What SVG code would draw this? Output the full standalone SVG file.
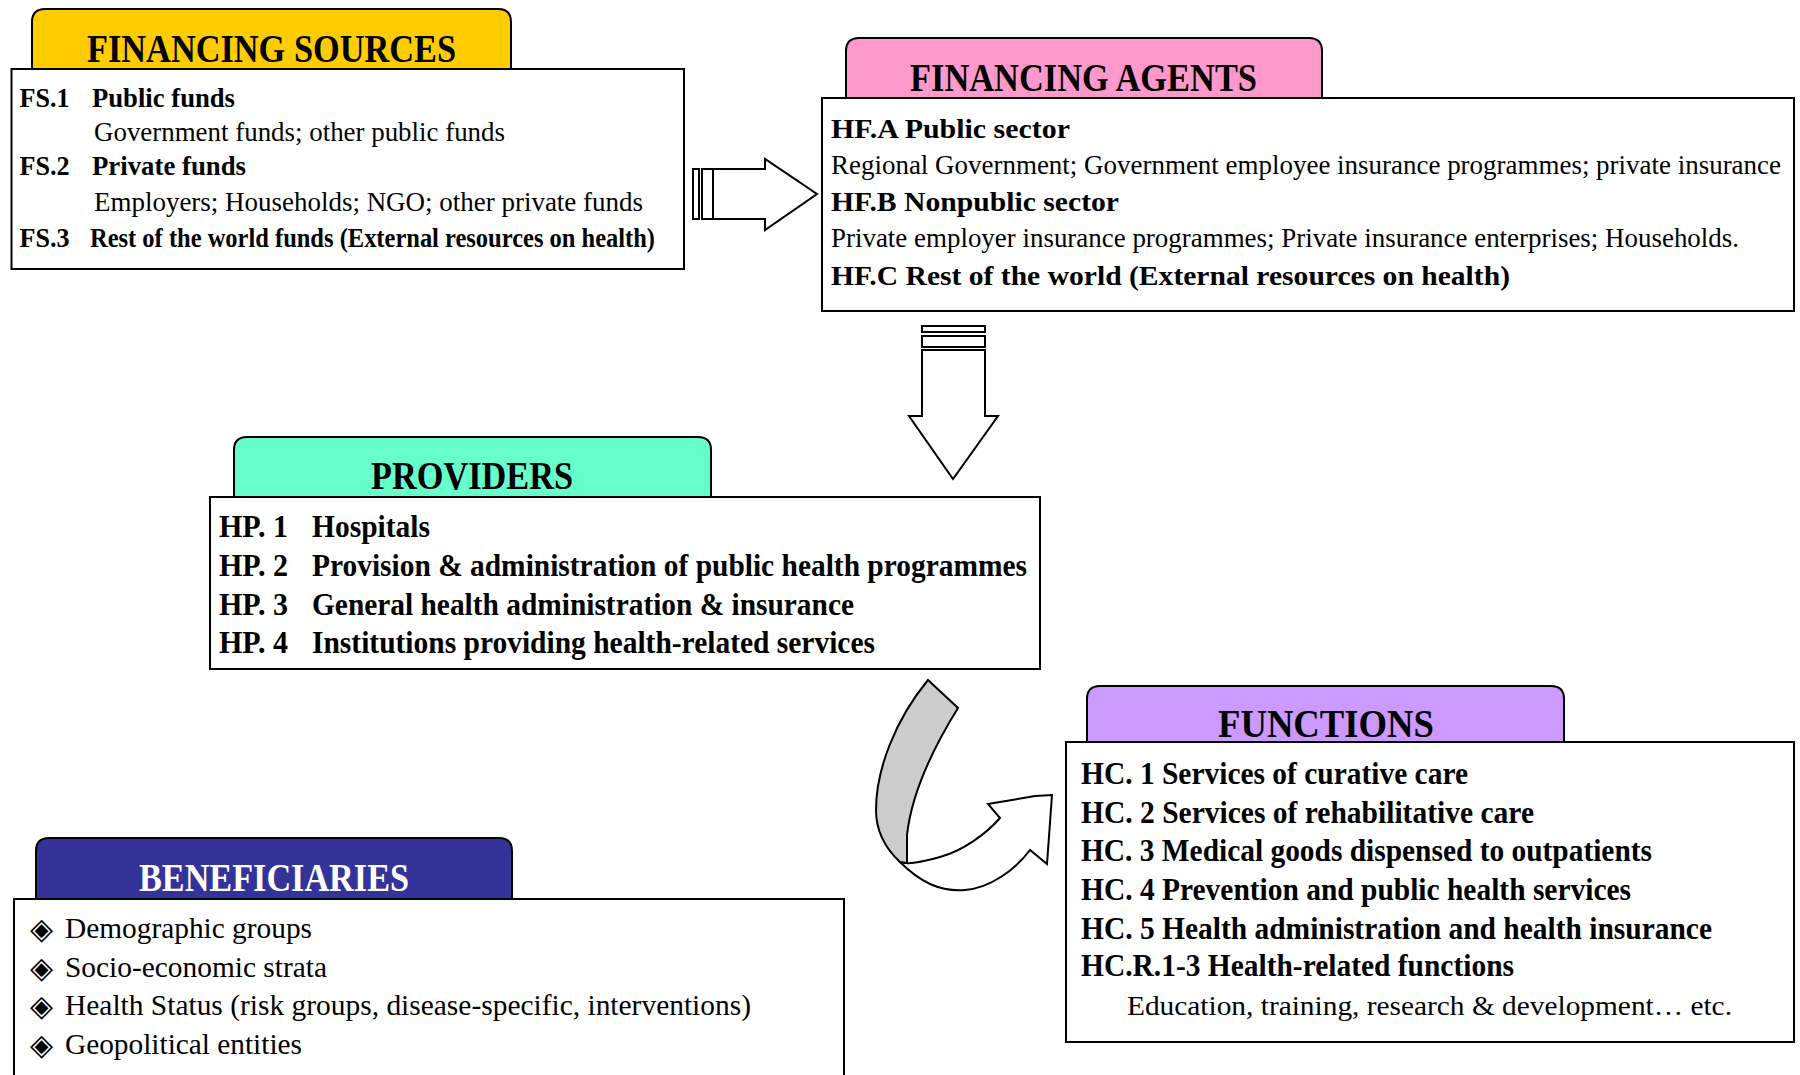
<svg xmlns="http://www.w3.org/2000/svg" width="1800" height="1075" viewBox="0 0 1800 1075">
<style>
.tab{stroke:#000;stroke-width:2}
.box{fill:#fff;stroke:#000;stroke-width:2}
.arr{fill:#fff;stroke:#000;stroke-width:2;stroke-linejoin:miter}
.ttl{font-family:"Liberation Serif","Times New Roman",serif;font-weight:bold;font-size:40px;fill:#000}
.bd{font-family:"Liberation Serif","Times New Roman",serif;font-weight:bold;font-size:28px;fill:#000}
.bd2{font-family:"Liberation Serif","Times New Roman",serif;font-weight:bold;font-size:31px;fill:#000}
.rg{font-family:"Liberation Serif","Times New Roman",serif;font-size:27px;fill:#000}
.rg2{font-family:"Liberation Serif","Times New Roman",serif;font-size:30px;fill:#000}
.bul{font-family:"DejaVu Sans",sans-serif;font-size:30px;fill:#000}
</style>
<rect width="1800" height="1075" fill="#fff"/>

<g id="financing-sources">
<path class="tab" fill="#FFCC00" d="M32,69 V22 Q32,9 45,9 H498 Q511,9 511,22 V69"/>
<rect class="box" x="11.5" y="69" width="672.5" height="200"/>
<text class="ttl" x="87" y="62" textLength="369" lengthAdjust="spacingAndGlyphs">FINANCING SOURCES</text>
<text class="bd" x="19.5" y="107" textLength="50" lengthAdjust="spacingAndGlyphs">FS.1</text>
<text class="bd" x="92" y="107" textLength="143" lengthAdjust="spacingAndGlyphs">Public funds</text>
<text class="rg" x="94" y="141" textLength="411" lengthAdjust="spacingAndGlyphs">Government funds; other public funds</text>
<text class="bd" x="19.5" y="175" textLength="50" lengthAdjust="spacingAndGlyphs">FS.2</text>
<text class="bd" x="92" y="175" textLength="154" lengthAdjust="spacingAndGlyphs">Private funds</text>
<text class="rg" x="94" y="211" textLength="549" lengthAdjust="spacingAndGlyphs">Employers; Households; NGO; other private funds</text>
<text class="bd" x="19.5" y="247" textLength="50" lengthAdjust="spacingAndGlyphs">FS.3</text>
<text class="bd" x="90" y="247" font-size="24" textLength="565" lengthAdjust="spacingAndGlyphs">Rest of the world funds (External resources on health)</text>
</g>

<g id="financing-agents">
<path class="tab" fill="#FF99CC" d="M846,98 V51 Q846,38 859,38 H1309 Q1322,38 1322,51 V98"/>
<rect class="box" x="822" y="98" width="972" height="213"/>
<text class="ttl" x="910" y="91" textLength="347" lengthAdjust="spacingAndGlyphs">FINANCING AGENTS</text>
<text class="bd" x="831" y="138" font-size="29" textLength="239" lengthAdjust="spacingAndGlyphs">HF.A Public sector</text>
<text class="rg" x="831" y="174" textLength="950" lengthAdjust="spacingAndGlyphs">Regional Government; Government employee insurance programmes; private insurance</text>
<text class="bd" x="831" y="211" font-size="29" textLength="288" lengthAdjust="spacingAndGlyphs">HF.B Nonpublic sector</text>
<text class="rg" x="831" y="247" textLength="908" lengthAdjust="spacingAndGlyphs">Private employer insurance programmes; Private insurance enterprises; Households.</text>
<text class="bd" x="831" y="285" font-size="29" textLength="679" lengthAdjust="spacingAndGlyphs">HF.C Rest of the world (External resources on health)</text>
</g>

<g id="providers">
<path class="tab" fill="#66FFCC" d="M234,497 V450 Q234,437 247,437 H698 Q711,437 711,450 V497"/>
<rect class="box" x="210" y="497" width="830" height="172"/>
<text class="ttl" x="371" y="489" textLength="202" lengthAdjust="spacingAndGlyphs">PROVIDERS</text>
<text class="bd2" x="219" y="537" textLength="69" lengthAdjust="spacingAndGlyphs">HP. 1</text>
<text class="bd2" x="312" y="537" textLength="118" lengthAdjust="spacingAndGlyphs">Hospitals</text>
<text class="bd2" x="219" y="576" textLength="69" lengthAdjust="spacingAndGlyphs">HP. 2</text>
<text class="bd2" x="312" y="576" textLength="715" lengthAdjust="spacingAndGlyphs">Provision &amp; administration of public health programmes</text>
<text class="bd2" x="219" y="615" textLength="69" lengthAdjust="spacingAndGlyphs">HP. 3</text>
<text class="bd2" x="312" y="615" textLength="542" lengthAdjust="spacingAndGlyphs">General health administration &amp; insurance</text>
<text class="bd2" x="219" y="653" textLength="69" lengthAdjust="spacingAndGlyphs">HP. 4</text>
<text class="bd2" x="312" y="653" textLength="563" lengthAdjust="spacingAndGlyphs">Institutions providing health-related services</text>
</g>

<g id="functions">
<path class="tab" fill="#CC99FF" d="M1087,742 V699 Q1087,686 1100,686 H1551 Q1564,686 1564,699 V742"/>
<rect class="box" x="1066" y="742" width="728" height="300"/>
<text class="ttl" x="1218" y="737" textLength="216" lengthAdjust="spacingAndGlyphs">FUNCTIONS</text>
<text class="bd2" x="1081" y="784" textLength="387" lengthAdjust="spacingAndGlyphs">HC. 1 Services of curative care</text>
<text class="bd2" x="1081" y="823" textLength="453" lengthAdjust="spacingAndGlyphs">HC. 2 Services of rehabilitative care</text>
<text class="bd2" x="1081" y="861" textLength="571" lengthAdjust="spacingAndGlyphs">HC. 3 Medical goods dispensed to outpatients</text>
<text class="bd2" x="1081" y="900" textLength="550" lengthAdjust="spacingAndGlyphs">HC. 4 Prevention and public health services</text>
<text class="bd2" x="1081" y="939" textLength="631" lengthAdjust="spacingAndGlyphs">HC. 5 Health administration and health insurance</text>
<text class="bd2" x="1081" y="976" textLength="433" lengthAdjust="spacingAndGlyphs">HC.R.1-3 Health-related functions</text>
<text class="rg" x="1127" y="1015" font-size="29" textLength="605" lengthAdjust="spacingAndGlyphs">Education, training, research &amp; development… etc.</text>
</g>

<g id="beneficiaries">
<path class="tab" fill="#333399" d="M36,899 V851 Q36,838 49,838 H499 Q512,838 512,851 V899"/>
<rect class="box" x="14" y="899" width="830" height="200"/>
<text class="ttl" x="139" y="891" style="fill:#fff" textLength="270" lengthAdjust="spacingAndGlyphs">BENEFICIARIES</text>
<text class="bul" x="30" y="939">◈</text>
<text class="rg2" x="65" y="938" textLength="247" lengthAdjust="spacingAndGlyphs">Demographic groups</text>
<text class="bul" x="30" y="978">◈</text>
<text class="rg2" x="65" y="977" textLength="262" lengthAdjust="spacingAndGlyphs">Socio-economic strata</text>
<text class="bul" x="30" y="1016">◈</text>
<text class="rg2" x="65" y="1015" textLength="686" lengthAdjust="spacingAndGlyphs">Health Status (risk groups, disease-specific, interventions)</text>
<text class="bul" x="30" y="1055">◈</text>
<text class="rg2" x="65" y="1054" textLength="237" lengthAdjust="spacingAndGlyphs">Geopolitical entities</text>
</g>

<g id="connectors">
<rect class="arr" x="693" y="169" width="6" height="50"/>
<rect class="arr" x="702" y="169" width="11" height="50"/>
<polygon class="arr" points="713,169 765,169 765,159 817,194 765,230 765,219 713,219"/>
<rect class="arr" x="922" y="326" width="63" height="6"/>
<rect class="arr" x="922" y="336" width="63" height="11"/>
<polygon class="arr" points="922,350 985,350 985,416 998,416 953,479 909,416 922,416"/>
<path class="arr" d="M900,862 C920,882 940,892 965,890 C990,888 1015,870 1030,850 L1047,864 L1052,795 L1035,796 L988,804 L1000,818 C985,835 962,851 940,857 C925,861 913,864 907,863 Z"/>
<path class="arr" style="fill:#cccccc" d="M928,680 L958,708 C935,745 912,790 907,835 L907,863 L900,862 C885,848 876,830 876,810 C876,770 895,720 928,680 Z"/>
</g>
</svg>
